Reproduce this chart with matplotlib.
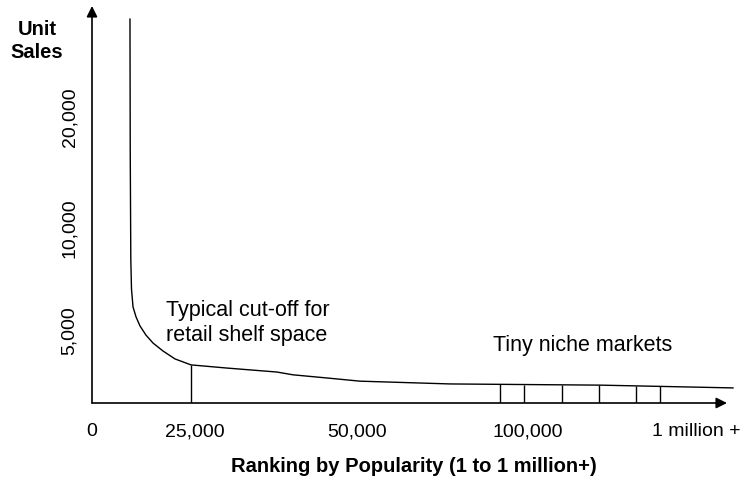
import numpy as np
import matplotlib
matplotlib.use('Agg')
import matplotlib.pyplot as plt

plt.rcParams['font.family'] = ['Liberation Sans', 'DejaVu Sans']

# Long tail curve (schematic units: x and y run 0..100 along the drawn axes)
curve_x = [5.98, 6.02, 6.11, 6.22, 6.46, 6.93, 7.56, 8.50, 9.61, 11.18, 13.07,
           15.59, 21.26, 29.13, 31.65, 37.01, 42.20, 56.38, 80.0, 100.94]
curve_y = [96.7, 64.0, 36.3, 28.7, 24.2, 21.7, 19.4, 17.1, 15.1, 13.1, 11.1,
           9.6, 8.8, 7.8, 7.1, 6.3, 5.5, 4.8, 4.5, 3.8]

# Vertical markers: shelf cut-off and niche market slices
cutoff_x = [15.59]
niche_x = [64.25, 68.03, 74.02, 79.84, 85.67, 89.45]

# Axis tick labels
xtick_pos = [0, 16.22, 41.73, 68.66, 95.12]
xtick_labels = ['0', '25,000', '50,000', '100,000', '1 million +']
ytick_pos = [18.6, 44.3, 72.3]
ytick_labels = ['5,000', '10,000', '20,000']

W, H = 744, 481
fig = plt.figure(figsize=(W / 100, H / 100), dpi=100)
ax = fig.add_axes([92 / W, (H - 404) / H, (727 - 92) / W, (404 - 7) / H])
ax.set_xlim(0, 100)
ax.set_ylim(0, 100)

ax.plot(curve_x, curve_y, color='black', lw=1.0, clip_on=False)

all_lines = cutoff_x + niche_x
tops = np.interp(all_lines, curve_x, curve_y)
ax.vlines(all_lines, 0, tops, color='black', lw=1.0)

# axes drawn as arrows
for s in ax.spines.values():
    s.set_visible(False)
arrow = dict(arrowstyle='-|>', lw=1.2, color='black', mutation_scale=16,
             shrinkA=0, shrinkB=0)
ax.annotate('', xy=(100, 0), xytext=(0, 0), arrowprops=arrow, annotation_clip=False)
ax.annotate('', xy=(0, 100), xytext=(0, 0), arrowprops=arrow, annotation_clip=False)

ax.set_xticks(xtick_pos)
ax.set_xticklabels(xtick_labels, fontsize=14)
ax.set_yticks(ytick_pos)
ax.set_yticklabels(ytick_labels, fontsize=14, rotation=90, va='center')
ax.tick_params(axis='both', length=0)
ax.tick_params(axis='x', pad=14)
ax.tick_params(axis='y', pad=10)

ax.text(11.65, 26.2, 'Typical cut-off for\nretail shelf space', fontsize=15.5,
        ha='left', va='top', linespacing=1.25)
ax.text(63.15, 13.35, 'Tiny niche markets', fontsize=15.5, ha='left', va='baseline')

fig.text(37 / W, 1 - 41 / H, 'Unit\nSales', fontsize=14.5, fontweight='bold',
         ha='center', va='center', linespacing=1.3)
fig.text(414 / W, 1 - 467 / H, 'Ranking by Popularity (1 to 1 million+)',
         fontsize=14.5, fontweight='bold', ha='center', va='center')

fig.savefig('out.png', dpi=100)
